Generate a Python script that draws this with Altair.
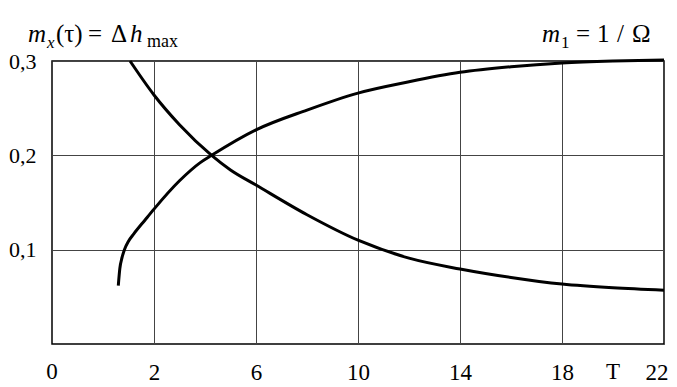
import altair as alt
import pandas as pd

# Increasing curve
inc_x = [0.6, 0.66, 0.75, 0.84, 1.0, 1.2, 1.65, 2.0, 3.0, 3.8, 4.26, 6.0, 8.0, 10.0, 12.0, 14.0, 16.0, 18.0, 20.0, 22.0]
inc_y = [0.062, 0.080, 0.092, 0.100, 0.109, 0.1165, 0.1315, 0.143, 0.173, 0.192, 0.200, 0.227, 0.248, 0.266, 0.278, 0.288, 0.294, 0.298, 0.300, 0.301]
# Decreasing curve
dec_x = [1.06, 2.0, 3.0, 4.26, 5.0, 6.0, 8.0, 10.0, 12.0, 14.0, 16.0, 18.0, 20.0, 22.0]
dec_y = [0.300, 0.264, 0.2325, 0.200, 0.1845, 0.1685, 0.137, 0.110, 0.091, 0.0795, 0.0705, 0.0635, 0.0595, 0.057]

x_ticks = [2, 6, 10, 14, 18, 22]
y_ticks = [0.1, 0.2, 0.3]
extra_labels = ["0", "T"]
extra_label_x = [-2, 20]

FONT = "Liberation Serif"
W, H = 612, 283

df = pd.concat([
    pd.DataFrame({"x": inc_x, "y": inc_y, "s": "inc"}),
    pd.DataFrame({"x": dec_x, "y": dec_y, "s": "dec"}),
])

xs = alt.Scale(domain=[-2, 22], nice=False, zero=False)
ys = alt.Scale(domain=[0, 0.3], nice=False)

lines = alt.Chart(df).mark_line(color="black", strokeWidth=3, interpolate="monotone").encode(
    x=alt.X("x:Q", scale=xs, axis=alt.Axis(values=x_ticks, title=None, grid=True, gridColor="#444",
                                           gridWidth=1, gridOpacity=1, ticks=False, domain=False,
                                           labelFont=FONT, labelFontSize=23, labelColor="black",
                                           labelPadding=17, labelAngle=0, labelFlush=True,
                                           labelFlushOffset=4)),
    y=alt.Y("y:Q", scale=ys, axis=alt.Axis(values=y_ticks, title=None, grid=True, gridColor="#444",
                                           gridWidth=1, gridOpacity=1, ticks=False, domain=False,
                                           labelFont=FONT, labelFontSize=22, labelColor="black",
                                           labelPadding=16, labelFlush=False,
                                           labelExpr="replace(format(datum.value, '.1f'), '.', ',')")),
    detail="s:N",
)

lab_df = pd.DataFrame({"x": extra_label_x, "t": extra_labels, "dx": [-18, 0]})
extra = alt.Chart(lab_df).mark_text(font=FONT, fontSize=23, color="black", baseline="middle").encode(
    x=alt.X("x:Q", scale=xs),
    y=alt.value(H + 28),
    text="t:N",
    xOffset=alt.XOffset("dx:Q", scale=None),
)

def piece(t, px, py, size=24, italic=False):
    return alt.Chart(pd.DataFrame({"t": [t]})).mark_text(
        font=FONT, fontSize=size, fontStyle="italic" if italic else "normal",
        color="black", align="left", baseline="alphabetic"
    ).encode(x=alt.value(px - 52), y=alt.value(py - 61), text="t:N")

titles = [
    piece("m", 28, 42, 25, True),
    piece("x", 47, 48, 17, True),
    piece("(τ)", 56, 42, 25),
    piece("=", 88, 42, 25),
    piece("Δ", 111, 42, 25),
    piece("h", 130, 42, 25, True),
    piece("max", 147, 47, 18),
    piece("m", 542, 42, 25, True),
    piece("1", 561, 48, 17),
    piece("=", 576, 42, 25),
    piece("1", 597, 42, 25),
    piece("/", 617, 42, 25),
    piece("Ω", 632, 42, 25),
]

chart = alt.layer(lines, extra, *titles).properties(
    width=W, height=H,
    autosize=alt.AutoSizeParams(type="none"),
    padding={"left": 44, "top": 53, "right": 5, "bottom": 42},
    background="white",
).configure_view(stroke="black", strokeWidth=1.5)

chart.save("out.html", embed_options={"renderer": "svg", "actions": False})
